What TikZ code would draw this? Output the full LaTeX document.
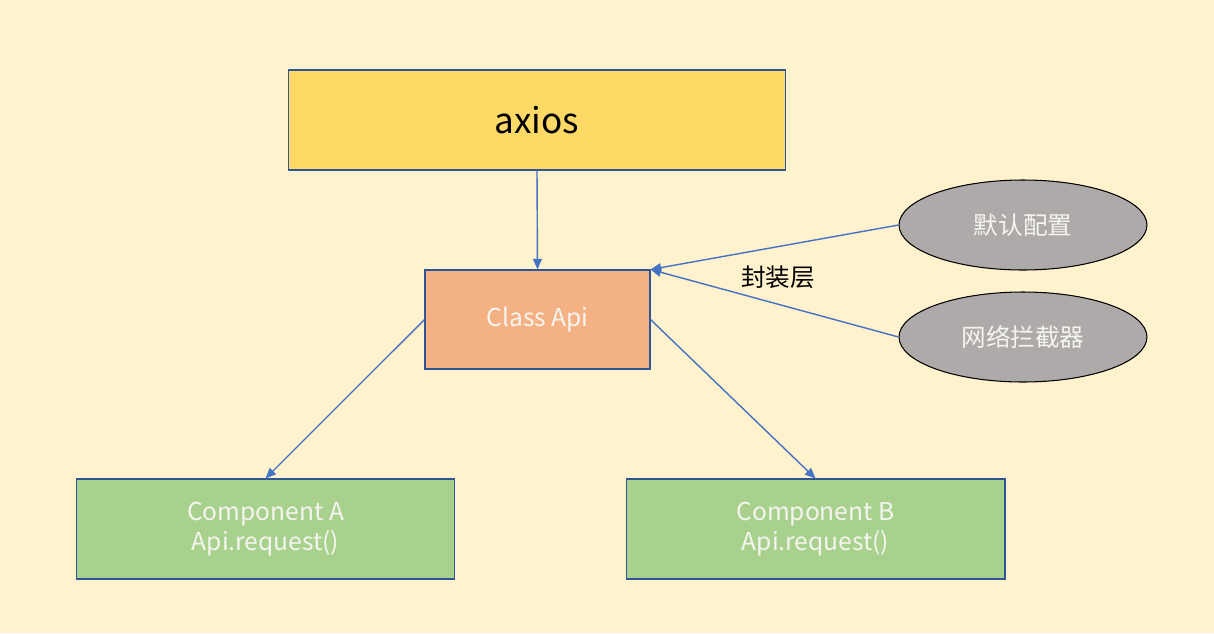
\documentclass[tikz,border=0pt]{standalone}
\usepackage{fontspec}
\setmainfont{Noto Sans CJK SC}
\usetikzlibrary{arrows.meta, positioning, shapes.geometric}
\definecolor{axbg}{RGB}{255, 242, 204}
\definecolor{axgold}{RGB}{255, 217, 102}
\definecolor{axpeach}{RGB}{244, 177, 131}
\definecolor{axgreen}{RGB}{169, 209, 142}
\definecolor{axgray}{RGB}{174, 170, 170}
\definecolor{axedge}{RGB}{47, 85, 151}
\definecolor{axarrow}{RGB}{68, 114, 196}
\definecolor{axtext}{RGB}{245, 245, 240}

\begin{document}
\begin{tikzpicture}[x=0.02cm, y=-0.02cm, >={Triangle[length=6pt, width=5pt]},
  box/.style={draw=axedge, line width=0.6pt, inner sep=0pt, align=center,
    font=\fontsize{14pt}{17pt}\selectfont, text=axtext},
  oval/.style={ellipse, draw=black, line width=0.6pt, fill=axgray, inner sep=0pt,
    minimum width=4.96cm, minimum height=1.8cm,
    font=\fontsize{14pt}{17pt}\selectfont, text=axtext},
  link/.style={->, axarrow, line width=0.8pt}]

  % --- background ---
  \fill[axbg] (0,0) rectangle (1214,633);
  \useasboundingbox (0,0) rectangle (1214,633);

  % --- library and wrapper ---
  \node[box, fill=axgold, text=black, font=\fontsize{20pt}{24pt}\selectfont,
    minimum width=9.96cm, minimum height=2cm] (axios) at (537,120) {axios};
  \node[box, fill=axpeach, minimum width=4.5cm, minimum height=1.98cm]
    (api) at (537.5,319.5) {Class Api};

  % --- components ---
  \node[box, fill=axgreen, minimum width=7.58cm, minimum height=2cm]
    (compa) at (265.5,529) {Component A\\Api.request()};
  \node[box, fill=axgreen, minimum width=7.58cm, minimum height=2cm]
    (compb) at (815.5,529) {Component B\\Api.request()};

  % --- config and interceptors ---
  \node[oval] (cfg) at (1023,225) {默认配置};
  \node[oval] (intc) at (1023,337) {网络拦截器};
  \node[font=\fontsize{14pt}{17pt}\selectfont] (layer) at (778,277) {封装层};

  % --- connectors ---
  \draw[link] (axios.south) -- (api.north);
  \draw[link] (api.west) -- (compa.north);
  \draw[link] (api.east) -- (compb.north);
  \draw[link] (cfg.west) -- (api.north east);
  \draw[link] (intc.west) -- (api.north east);

\end{tikzpicture}
\end{document}
